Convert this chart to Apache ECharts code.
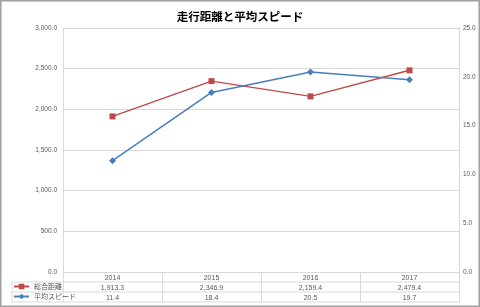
<!DOCTYPE html>
<html>
<head>
<meta charset="utf-8">
<script src="https://cdn.jsdelivr.net/npm/echarts@6/dist/echarts.min.js"></script>
<style>
  html, body { margin: 0; padding: 0; background: #fff; }
  #chart { width: 480px; height: 307px; }
</style>
</head>
<body>
<div id="chart"></div>
<script>
// data
const years = ["2014", "2015", "2016", "2017"];
const distance = [1913.3, 2346.9, 2159.4, 2479.4];
const speed = [11.4, 18.4, 20.5, 19.7];
const distName = "総合距離";
const speedName = "平均スピード";

const font = "'Liberation Sans', 'Noto Sans CJK JP', sans-serif";
const textColor = "#595959";
const gridColor = "#d9d9d9";

// 1,913.3 style
function fmt(v) {
  return Number(v).toLocaleString("en-US", { minimumFractionDigits: 1, maximumFractionDigits: 1 });
}

const chart = echarts.init(document.getElementById("chart"));

// table lines (layout only)
const tL = 12, tR = 459, pL = 63;
const rowY = [272, 282, 292, 302];

chart.setOption({
  backgroundColor: "#fff",
  animation: false,
  textStyle: { fontFamily: font },
  title: {
    text: "走行距離と平均スピード",
    left: "center",
    top: 6,
    textStyle: { fontSize: 11.5, fontWeight: "bold", color: "#000", fontFamily: "'Noto Sans CJK JP', sans-serif" },
  },
  legend: {
    orient: "vertical",
    left: 13,
    top: 283,
    padding: 0,
    itemWidth: 15,
    itemHeight: 7,
    itemGap: 3,
    textStyle: { fontSize: 7, color: textColor, fontFamily: "'Noto Sans CJK JP', sans-serif" },
    data: [distName, speedName],
  },
  grid: { left: pL, right: 480 - tR, top: 28, bottom: 307 - rowY[0] },
  xAxis: {
    type: "category",
    data: years,
    axisLine: { lineStyle: { color: gridColor } },
    axisTick: { show: true, length: 30, lineStyle: { color: gridColor } },
    axisLabel: {
      margin: 1,
      fontSize: 7,
      lineHeight: 10,
      color: textColor,
      formatter: (v, i) => v + "\n" + fmt(distance[i]) + "\n" + fmt(speed[i]),
    },
  },
  yAxis: [
    {
      type: "value",
      min: 0,
      max: 3000,
      interval: 500,
      axisLine: { show: true, lineStyle: { color: gridColor } },
      splitLine: { lineStyle: { color: gridColor } },
      axisLabel: { fontSize: 6.5, color: textColor, margin: 6, formatter: fmt },
    },
    {
      type: "value",
      min: 0,
      max: 25,
      interval: 5,
      axisLine: { show: true, lineStyle: { color: gridColor } },
      splitLine: { show: false },
      axisLabel: { fontSize: 6.5, color: textColor, margin: 4, formatter: fmt },
    },
  ],
  series: [
    {
      name: distName,
      type: "line",
      data: distance,
      yAxisIndex: 0,
      symbol: "rect",
      symbolSize: 6,
      itemStyle: { color: "#be4b48" },
      lineStyle: { color: "#be4b48", width: 1.5 },
    },
    {
      name: speedName,
      type: "line",
      data: speed,
      yAxisIndex: 1,
      symbol: "diamond",
      symbolSize: 7,
      itemStyle: { color: "#4a7ebb" },
      lineStyle: { color: "#4a7ebb", width: 1.5 },
    },
  ],
  graphic: [
    { type: "rect", shape: { x: 0.75, y: 0.75, width: 478.5, height: 305.5 }, style: { fill: "none", stroke: "#a0a0a0", lineWidth: 1.5 }, silent: true },
    { type: "line", shape: { x1: tL, y1: rowY[1], x2: tR, y2: rowY[1] }, style: { stroke: gridColor, lineWidth: 1 } },
    { type: "line", shape: { x1: tL, y1: rowY[2], x2: tR, y2: rowY[2] }, style: { stroke: gridColor, lineWidth: 1 } },
    { type: "line", shape: { x1: tL, y1: rowY[3], x2: tR, y2: rowY[3] }, style: { stroke: gridColor, lineWidth: 1 } },
    { type: "line", shape: { x1: tL, y1: rowY[1], x2: tL, y2: rowY[3] }, style: { stroke: gridColor, lineWidth: 1 } },
  ],
});
</script>
</body>
</html>
